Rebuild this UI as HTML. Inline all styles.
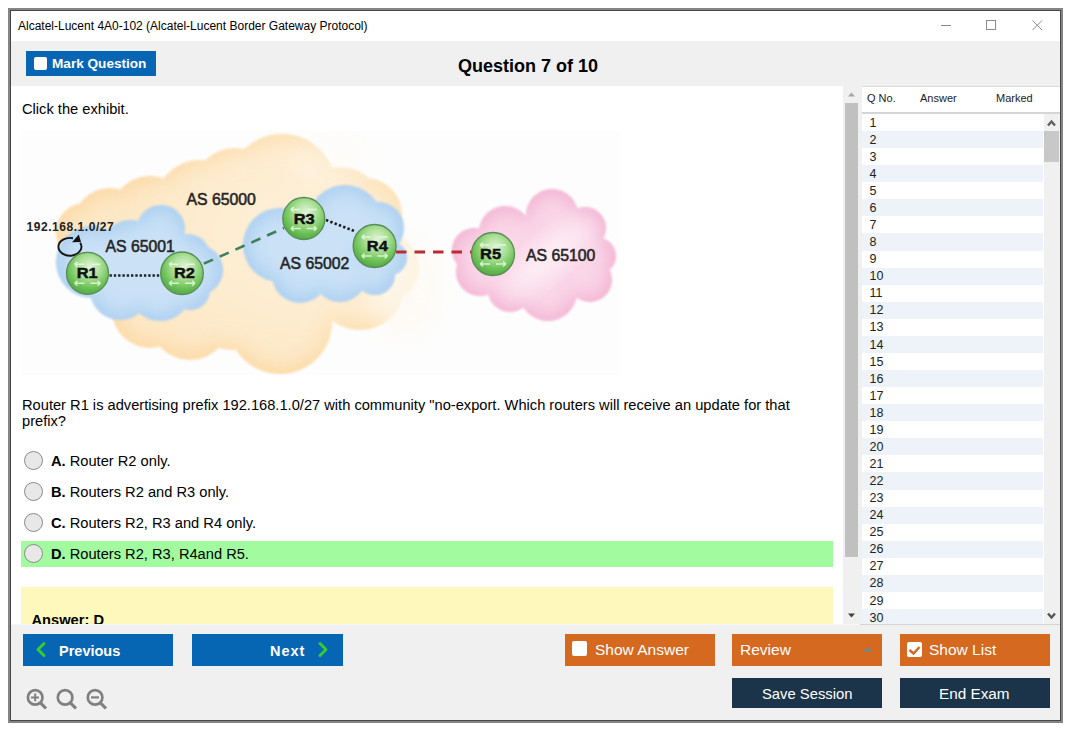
<!DOCTYPE html>
<html><head><meta charset="utf-8">
<style>
*{margin:0;padding:0;box-sizing:border-box}
html,body{width:1075px;height:735px;overflow:hidden;background:#fff;font-family:"Liberation Sans",sans-serif;color:#000}
.a{position:absolute}
#win{left:8px;top:8px;width:1055px;height:715px;border:2px solid #858585}
#win2{left:10px;top:10px;width:1051px;height:711px;border:1px solid #474747}
.title{left:18px;top:19px;font-size:12px;line-height:14px;white-space:nowrap}
.tb{left:11px;top:41px;width:1049px;height:45px;background:#f0f0f0}
.bb{left:11px;top:624px;width:1049px;height:96px;background:#f0f0f0}
.btn{color:#fff;font-weight:bold;white-space:nowrap}
.blue{background:#0766b4}
.orange{background:#d4691f}
.navy{background:#1b3449}
.chk{background:#fff;border-radius:2px}
.q{font-size:14.67px;line-height:16px;white-space:nowrap}
.radio{width:19px;height:19px;border-radius:50%;border:1px solid #8a8a8a;background:#e8e8e8}
.opt{font-size:14.67px;line-height:16px;white-space:nowrap}
.lrow{left:862px;width:181px;height:17.07px;font-size:12.5px;line-height:17px;padding-left:7.5px;padding-top:0.6px;color:#222}
.lrow.e{background:#eef3f9}
</style></head><body>
<div class="a" id="win"></div>
<div class="a" id="win2"></div>
<div class="a title">Alcatel-Lucent 4A0-102 (Alcatel-Lucent Border Gateway Protocol)</div>
<!-- window controls -->
<div class="a" style="left:941px;top:25px;width:10px;height:1px;background:#8a8a8a"></div>
<div class="a" style="left:986px;top:20px;width:10px;height:10px;border:1px solid #8a8a8a"></div>
<svg class="a" style="left:1032px;top:20px" width="11" height="11"><path d="M0.5 0.5L10 10M10 0.5L0.5 10" stroke="#8a8a8a" stroke-width="1"/></svg>

<div class="a tb"></div>
<div class="a blue" style="left:26px;top:51px;width:130px;height:25px"></div>
<div class="a chk" style="left:34px;top:57px;width:13px;height:13px"></div>
<div class="a btn" style="left:52px;top:56px;font-size:13.6px;line-height:16px">Mark Question</div>
<div class="a" style="left:458px;top:56px;font-size:18px;line-height:20px;font-weight:bold;white-space:nowrap">Question 7 of 10</div>

<!-- content -->
<div class="a q" style="left:22px;top:101px">Click the exhibit.</div>
<div class="a q" style="left:22px;top:397px">Router R1 is advertising prefix 192.168.1.0/27 with community "no-export. Which routers will receive an update for that<br>prefix?</div>

<div class="a" style="left:21px;top:541px;width:812px;height:26px;background:#a2fb9f"></div>
<div class="a radio" style="left:24px;top:451px"></div>
<div class="a radio" style="left:24px;top:482px"></div>
<div class="a radio" style="left:24px;top:513px"></div>
<div class="a radio" style="left:24px;top:544px"></div>
<div class="a opt" style="left:51px;top:453px"><b>A.</b> Router R2 only.</div>
<div class="a opt" style="left:51px;top:484px"><b>B.</b> Routers R2 and R3 only.</div>
<div class="a opt" style="left:51px;top:515px"><b>C.</b> Routers R2, R3 and R4 only.</div>
<div class="a opt" style="left:51px;top:546px"><b>D.</b> Routers R2, R3, R4and R5.</div>

<div class="a" style="left:21px;top:587px;width:812px;height:37px;background:#fef8bd;overflow:hidden">
  <div class="a" style="left:10.5px;top:24.5px;font-size:14.67px;line-height:17px;font-weight:bold;white-space:nowrap">Answer: D</div>
</div>

<!-- scrollbar -->
<div class="a" style="left:843px;top:86px;width:19px;height:538px;background:#f0f0f0"></div>
<div class="a" style="left:845px;top:103px;width:13px;height:454px;background:#c0c0c0"></div>

<!-- list -->
<div class="a" style="left:862px;top:86px;width:198px;height:538px;background:#fff"></div>
<div class="a" style="left:862px;top:86px;width:198px;height:1px;background:#dcdcdc"></div>
<div class="a" style="left:862px;top:112px;width:198px;height:2px;background:#d5d5d5"></div>
<div class="a" style="left:867px;top:91px;font-size:11px;line-height:14px;color:#222">Q No.</div>
<div class="a" style="left:920px;top:91px;font-size:11px;line-height:14px;color:#222">Answer</div>
<div class="a" style="left:996px;top:91px;font-size:11px;line-height:14px;color:#222">Marked</div>
<div class="a lrow" style="top:114.00px">1</div>
<div class="a lrow e" style="top:131.07px">2</div>
<div class="a lrow" style="top:148.14px">3</div>
<div class="a lrow e" style="top:165.21px">4</div>
<div class="a lrow" style="top:182.28px">5</div>
<div class="a lrow e" style="top:199.35px">6</div>
<div class="a lrow" style="top:216.42px">7</div>
<div class="a lrow e" style="top:233.49px">8</div>
<div class="a lrow" style="top:250.56px">9</div>
<div class="a lrow e" style="top:267.63px">10</div>
<div class="a lrow" style="top:284.70px">11</div>
<div class="a lrow e" style="top:301.77px">12</div>
<div class="a lrow" style="top:318.84px">13</div>
<div class="a lrow e" style="top:335.91px">14</div>
<div class="a lrow" style="top:352.98px">15</div>
<div class="a lrow e" style="top:370.05px">16</div>
<div class="a lrow" style="top:387.12px">17</div>
<div class="a lrow e" style="top:404.19px">18</div>
<div class="a lrow" style="top:421.26px">19</div>
<div class="a lrow e" style="top:438.33px">20</div>
<div class="a lrow" style="top:455.40px">21</div>
<div class="a lrow e" style="top:472.47px">22</div>
<div class="a lrow" style="top:489.54px">23</div>
<div class="a lrow e" style="top:506.61px">24</div>
<div class="a lrow" style="top:523.68px">25</div>
<div class="a lrow e" style="top:540.75px">26</div>
<div class="a lrow" style="top:557.82px">27</div>
<div class="a lrow e" style="top:574.89px">28</div>
<div class="a lrow" style="top:591.96px">29</div>
<div class="a lrow e" style="top:609.03px">30</div>
<div class="a" style="left:1044px;top:114px;width:16px;height:510px;background:#f0f0f0"></div>
<div class="a" style="left:1044px;top:131px;width:15px;height:31px;background:#c8c8c8"></div>

<!-- bottom bar -->
<div class="a bb"></div>
<div class="a" style="left:860px;top:624px;width:200px;height:1px;background:#d4d4d4"></div>
<div class="a" style="left:11px;top:624px;width:849px;height:1px;background:#f7f7f7"></div>
<div class="a blue" style="left:23px;top:634px;width:150px;height:32px"></div>
<div class="a btn" style="left:59px;top:643px;font-size:14.5px;line-height:17px">Previous</div>
<svg class="a" style="left:34px;top:641px" width="14" height="18"><path d="M10 2.5L4 8.5L10 14.5" fill="none" stroke="#33cc33" stroke-width="3" stroke-linecap="round" stroke-linejoin="round"/></svg>
<div class="a blue" style="left:192px;top:634px;width:151px;height:32px"></div>
<div class="a btn" style="left:270px;top:643px;font-size:14.5px;line-height:17px;letter-spacing:1px">Next</div>
<svg class="a" style="left:316px;top:641px" width="14" height="18"><path d="M4 2.5L10 8.5L4 14.5" fill="none" stroke="#33cc33" stroke-width="3" stroke-linecap="round" stroke-linejoin="round"/></svg>

<div class="a orange" style="left:565px;top:634px;width:150px;height:32px"></div>
<div class="a chk" style="left:572px;top:641px;width:15px;height:15px"></div>
<div class="a btn" style="left:595px;top:641px;font-size:15.5px;line-height:18px;font-weight:normal">Show Answer</div>
<div class="a orange" style="left:732px;top:634px;width:150px;height:32px"></div>
<div class="a btn" style="left:740px;top:641px;font-size:15.5px;line-height:18px;font-weight:normal">Review</div>
<div class="a orange" style="left:900px;top:634px;width:150px;height:32px"></div>
<div class="a chk" style="left:907px;top:641.5px;width:15px;height:15px"></div>
<div class="a btn" style="left:929px;top:641px;font-size:15.5px;line-height:18px;font-weight:normal">Show List</div>
<svg class="a" style="left:907px;top:641.5px" width="16" height="16"><path d="M2.5 8L6.5 11.5L12.5 5" fill="none" stroke="#d2691f" stroke-width="2.4"/></svg>

<div class="a navy" style="left:732px;top:678px;width:150px;height:30px"></div>
<div class="a btn" style="left:762px;top:685px;font-size:14.8px;line-height:18px;font-weight:normal">Save Session</div>
<div class="a navy" style="left:900px;top:678px;width:150px;height:30px"></div>
<div class="a btn" style="left:939px;top:685px;font-size:15.3px;line-height:18px;font-weight:normal">End Exam</div>
<svg class="a" style="left:862px;top:646px" width="12" height="7"><path d="M0.8 6L5.8 0.5L10.8 6Z" fill="#808080"/></svg>

<svg class="a" style="left:22px;top:684px" width="90" height="30">
<g fill="none" stroke="#808080" stroke-width="2.7">
<circle cx="13.2" cy="13.4" r="7.3"/><path d="M18.5 18.8L24 24.5" stroke-width="3.2"/>
<path d="M9 13.4H17M13.2 9.6V17.2" stroke-width="2"/>
<circle cx="43.1" cy="13.4" r="7.3"/><path d="M48.4 18.8L54 24.5" stroke-width="3.2"/>
<circle cx="73.1" cy="13.4" r="7.3"/><path d="M78.4 18.8L84 24.5" stroke-width="3.2"/>
<path d="M69 13.4H77" stroke-width="2.2"/>
</g></svg>
<!-- scroll arrows -->
<svg class="a" style="left:847px;top:91.3px" width="10" height="7"><path d="M1 5.5L4.5 1.5L8 5.5Z" fill="#a6a6a6"/></svg>
<svg class="a" style="left:847px;top:612px" width="10" height="7"><path d="M1 1.5L4.5 5.5L8 1.5Z" fill="#404040"/></svg>
<svg class="a" style="left:1046px;top:118px" width="12" height="10"><path d="M2 7.5L5.5 3.5L9 7.5" fill="none" stroke="#606060" stroke-width="2.4"/></svg>
<svg class="a" style="left:1046px;top:611px" width="12" height="10"><path d="M2 2.5L5.5 6.5L9 2.5" fill="none" stroke="#555" stroke-width="2.4"/></svg>
<!-- EXHIBIT -->
<svg class="a" style="left:20px;top:131px" width="600" height="244" viewBox="20 131 600 244">
<defs>
<filter id="bl" x="-20%" y="-20%" width="140%" height="140%"><feGaussianBlur stdDeviation="1.2"/></filter>
<filter id="bl2" x="-50%" y="-50%" width="200%" height="200%"><feGaussianBlur stdDeviation="12"/></filter>
<radialGradient id="gr" cx="0.55" cy="0.35" r="0.65"><stop offset="0" stop-color="#e2f4da"/><stop offset="0.4" stop-color="#ace098"/><stop offset="0.8" stop-color="#68bf52"/><stop offset="1" stop-color="#55a84a"/></radialGradient>
<filter id="cgo" x="-10%" y="-10%" width="120%" height="120%" color-interpolation-filters="sRGB">
<feGaussianBlur in="SourceGraphic" stdDeviation="1.2" result="base"/>
<feMorphology in="SourceAlpha" operator="erode" radius="5" result="er"/>
<feGaussianBlur in="er" stdDeviation="10" result="erb"/>
<feFlood flood-color="#fef5e6" flood-opacity="0.5" result="fl"/>
<feComposite in="fl" in2="erb" operator="in" result="glow"/>
<feComposite in="glow" in2="base" operator="in" result="glow2"/>
<feMerge><feMergeNode in="base"/><feMergeNode in="glow2"/></feMerge>
</filter>
<filter id="cgb" x="-10%" y="-10%" width="120%" height="120%" color-interpolation-filters="sRGB">
<feGaussianBlur in="SourceGraphic" stdDeviation="1.2" result="base"/>
<feMorphology in="SourceAlpha" operator="erode" radius="4" result="er"/>
<feGaussianBlur in="er" stdDeviation="9" result="erb"/>
<feFlood flood-color="#f2f8fd" flood-opacity="0.45" result="fl"/>
<feComposite in="fl" in2="erb" operator="in" result="glow"/>
<feComposite in="glow" in2="base" operator="in" result="glow2"/>
<feMerge><feMergeNode in="base"/><feMergeNode in="glow2"/></feMerge>
</filter>
<filter id="cgp" x="-10%" y="-10%" width="120%" height="120%" color-interpolation-filters="sRGB">
<feGaussianBlur in="SourceGraphic" stdDeviation="1.2" result="base"/>
<feMorphology in="SourceAlpha" operator="erode" radius="4" result="er"/>
<feGaussianBlur in="er" stdDeviation="9" result="erb"/>
<feFlood flood-color="#fff2f8" flood-opacity="0.55" result="fl"/>
<feComposite in="fl" in2="erb" operator="in" result="glow"/>
<feComposite in="glow" in2="base" operator="in" result="glow2"/>
<feMerge><feMergeNode in="base"/><feMergeNode in="glow2"/></feMerge>
</filter>
</defs>
<rect x="21" y="131" width="599" height="244" fill="#fdfdfd"/>
<!-- orange cloud -->
<radialGradient id="og" gradientUnits="userSpaceOnUse" cx="300" cy="235" r="175" gradientTransform="translate(300 235) scale(1 0.8) translate(-300 -235)"><stop offset="0" stop-color="#fdebd0"/><stop offset="0.6" stop-color="#fde2b7"/><stop offset="1" stop-color="#fcdaa6"/></radialGradient>
<g filter="url(#cgo)" fill="url(#og)">
<circle cx="282" cy="188" r="54"/>
<circle cx="235" cy="190" r="42"/>
<circle cx="340" cy="210" r="43"/>
<circle cx="365" cy="215" r="37"/>
<circle cx="385" cy="268" r="34"/>
<circle cx="360" cy="285" r="45"/>
<circle cx="280" cy="322" r="52"/>
<circle cx="233" cy="305" r="45"/>
<circle cx="190" cy="320" r="40"/>
<circle cx="150" cy="310" r="38"/>
<circle cx="200" cy="205" r="45"/>
<circle cx="150" cy="215" r="39"/>
<circle cx="110" cy="225" r="37"/>
<circle cx="85" cy="232" r="29"/>
<circle cx="250" cy="260" r="85"/>
</g>
<ellipse cx="405" cy="285" rx="35" ry="55" fill="#fefaf3" filter="url(#bl2)" opacity="0.75"/>
<ellipse cx="330" cy="160" rx="40" ry="25" fill="#fefaf3" filter="url(#bl2)" opacity="0.4"/>
<!-- blue cloud 1 -->
<g filter="url(#cgb)" fill="#a9cef0">
<circle cx="92" cy="262" r="36"/>
<circle cx="161" cy="229" r="24"/>
<circle cx="130" cy="248" r="28"/>
<circle cx="188" cy="256" r="22"/>
<circle cx="198" cy="270" r="25"/>
<circle cx="120" cy="290" r="30"/>
<circle cx="160" cy="290" r="31"/>
<circle cx="190" cy="290" r="20"/>
<circle cx="140" cy="265" r="40"/>
</g>

<!-- blue cloud 2 -->
<g filter="url(#cgb)" fill="#a9cef0">
<circle cx="345" cy="222" r="37"/>
<circle cx="378" cy="228" r="26"/>
<circle cx="280" cy="245" r="37"/>
<circle cx="390" cy="258" r="17"/>
<circle cx="300" cy="275" r="28"/>
<circle cx="340" cy="275" r="27"/>
<circle cx="375" cy="275" r="20"/>
<circle cx="325" cy="250" r="40"/>
</g>

<!-- pink cloud -->
<g filter="url(#cgp)" fill="#f3b3d3">
<circle cx="552" cy="215" r="26"/>
<circle cx="585" cy="228" r="21"/>
<circle cx="598" cy="256" r="18"/>
<circle cx="505" cy="232" r="26"/>
<circle cx="474" cy="250" r="22"/>
<circle cx="480" cy="272" r="24"/>
<circle cx="510" cy="290" r="22"/>
<circle cx="548" cy="292" r="29"/>
<circle cx="590" cy="280" r="22"/>
<circle cx="540" cy="255" r="42"/>
</g>
<ellipse cx="548" cy="258" rx="50" ry="13" transform="rotate(-40 548 258)" fill="#fff8fb" filter="url(#bl2)" opacity="0.9"/>
<!-- links -->
<line x1="109.5" y1="275.5" x2="160.5" y2="275.5" stroke="#1a2530" stroke-width="2.6" stroke-dasharray="2.4 1.9"/>
<line x1="202" y1="264.5" x2="284" y2="228" stroke="#3e7f60" stroke-width="2.6" stroke-dasharray="10 7.3" stroke-dashoffset="-2"/>
<line x1="326" y1="220" x2="355.5" y2="231.5" stroke="#1a1a1a" stroke-width="2.6" stroke-dasharray="2.4 2.2"/>
<line x1="396" y1="252" x2="476" y2="252" stroke="#b82c32" stroke-width="2.8" stroke-dasharray="10.5 8"/>
<!-- loop -->
<path d="M73 238.2 A11.5 8.9 0 1 0 80.2 242.8" fill="none" stroke="#151515" stroke-width="1.9"/>
<path d="M78.8 234.6 L72 242.3 L81 242 Z" fill="#111"/>
<!-- routers -->
<circle cx="87.5" cy="273.3" r="21" fill="url(#gr)" stroke="#5a8c58" stroke-width="1.3"/>
<g stroke="#f0fbea" stroke-width="1.4" fill="none" opacity="0.8"><path d="M74.5 264.3H83.5M74.5 264.3l3 -2.4M74.5 264.3l3 2.4M91.5 264.3H100.5"/><path d="M74.5 283.3H84.5M74.5 283.3l3 -2.4M74.5 283.3l3 2.4M90.5 283.3H100.5M100.5 283.3l-3 -2.4M100.5 283.3l-3 2.4"/></g>
<text x="76.7" y="277.9" font-size="14" textLength="21" lengthAdjust="spacingAndGlyphs" fill="#111" stroke="#111" stroke-width="0.45" font-family="Liberation Sans" font-weight="bold">R1</text>
<circle cx="182" cy="273.3" r="21.3" fill="url(#gr)" stroke="#5a8c58" stroke-width="1.3"/>
<g stroke="#f0fbea" stroke-width="1.4" fill="none" opacity="0.8"><path d="M169 264.3H178M169 264.3l3 -2.4M169 264.3l3 2.4M186 264.3H195"/><path d="M169 283.3H179M169 283.3l3 -2.4M169 283.3l3 2.4M185 283.3H195M195 283.3l-3 -2.4M195 283.3l-3 2.4"/></g>
<text x="174.0" y="278" font-size="14" textLength="21" lengthAdjust="spacingAndGlyphs" fill="#111" stroke="#111" stroke-width="0.45" font-family="Liberation Sans" font-weight="bold">R2</text>
<circle cx="303.8" cy="218.5" r="21" fill="url(#gr)" stroke="#5a8c58" stroke-width="1.3"/>
<g stroke="#f0fbea" stroke-width="1.4" fill="none" opacity="0.8"><path d="M290.8 209.5H299.8M290.8 209.5l3 -2.4M290.8 209.5l3 2.4M307.8 209.5H316.8"/><path d="M290.8 228.5H300.8M290.8 228.5l3 -2.4M290.8 228.5l3 2.4M306.8 228.5H316.8M316.8 228.5l-3 -2.4M316.8 228.5l-3 2.4"/></g>
<text x="293.7" y="223.9" font-size="14" textLength="21" lengthAdjust="spacingAndGlyphs" fill="#111" stroke="#111" stroke-width="0.45" font-family="Liberation Sans" font-weight="bold">R3</text>
<circle cx="374.6" cy="246" r="21.5" fill="url(#gr)" stroke="#5a8c58" stroke-width="1.3"/>
<g stroke="#f0fbea" stroke-width="1.4" fill="none" opacity="0.8"><path d="M361.6 237H370.6M361.6 237l3 -2.4M361.6 237l3 2.4M378.6 237H387.6"/><path d="M361.6 256H371.6M361.6 256l3 -2.4M361.6 256l3 2.4M377.6 256H387.6M387.6 256l-3 -2.4M387.6 256l-3 2.4"/></g>
<text x="366.8" y="250.8" font-size="14" textLength="21" lengthAdjust="spacingAndGlyphs" fill="#111" stroke="#111" stroke-width="0.45" font-family="Liberation Sans" font-weight="bold">R4</text>
<circle cx="493" cy="254" r="21.5" fill="url(#gr)" stroke="#5a8c58" stroke-width="1.3"/>
<g stroke="#f0fbea" stroke-width="1.4" fill="none" opacity="0.8"><path d="M480 245H489M480 245l3 -2.4M480 245l3 2.4M497 245H506"/><path d="M480 264H490M480 264l3 -2.4M480 264l3 2.4M496 264H506M506 264l-3 -2.4M506 264l-3 2.4"/></g>
<text x="480.1" y="259.4" font-size="14" textLength="21" lengthAdjust="spacingAndGlyphs" fill="#111" stroke="#111" stroke-width="0.45" font-family="Liberation Sans" font-weight="bold">R5</text>
<g fill="#262626" stroke="#262626" stroke-width="0.55" font-family="Liberation Sans" font-size="15.8">
<text x="186.5" y="205">AS 65000</text>
<text x="105.5" y="252.2">AS 65001</text>
<text x="280" y="269.2">AS 65002</text>
<text x="526" y="261.2">AS 65100</text>
</g>
<text x="26.5" y="230.8" font-family="Liberation Sans" font-weight="bold" font-size="12" letter-spacing="0.55" fill="#222">192.168.1.0/27</text>
</svg>
<!-- /EXHIBIT -->
</body></html>
